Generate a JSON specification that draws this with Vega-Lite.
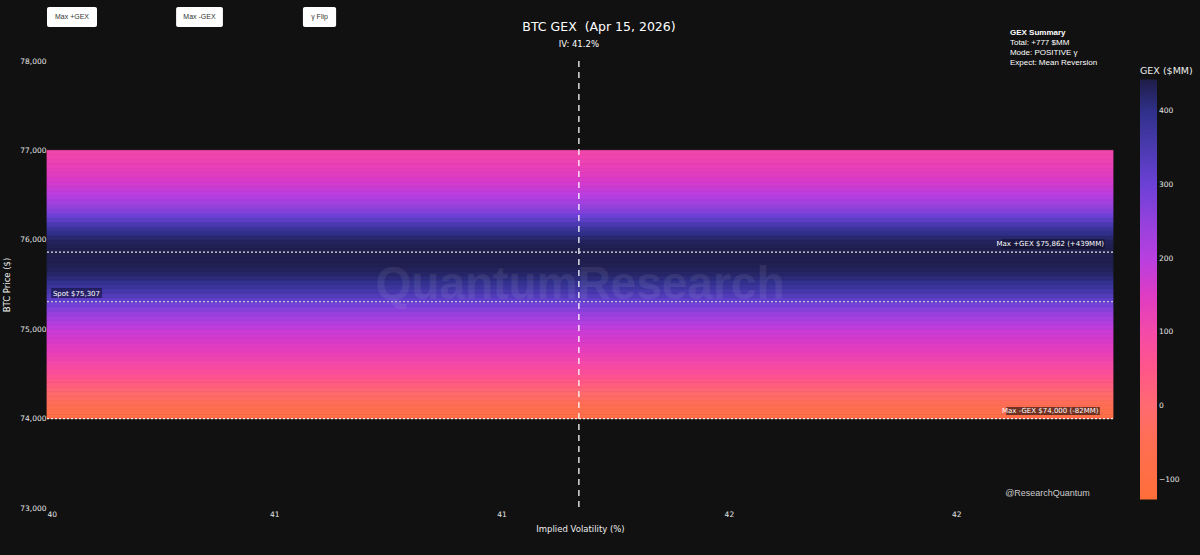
{
  "$schema": "https://vega.github.io/schema/vega-lite/v6.json",
  "width": 1066,
  "height": 447,
  "autosize": {"type": "none"},
  "padding": {"left": 47, "top": 61, "right": 87, "bottom": 47},
  "background": "#111111",
  "config": {
    "view": {"stroke": null},
    "axis": {
      "labelColor": "#e6e6e6",
      "labelFont": "DejaVu Sans",
      "labelFontSize": 7.5,
      "titleColor": "#eeeeee",
      "titleFont": "DejaVu Sans",
      "titleFontSize": 8.5,
      "titleFontWeight": "normal",
      "domain": false,
      "ticks": false,
      "grid": false
    },
    "legend": {
      "labelColor": "#e6e6e6",
      "labelFont": "DejaVu Sans",
      "titleColor": "#eeeeee",
      "titleFont": "DejaVu Sans"
    }
  },
  "data": {
    "values": [
      {"p0": 74000, "p1": 74050, "gex": -82},
      {"p0": 74050, "p1": 74100, "gex": -70},
      {"p0": 74100, "p1": 74150, "gex": -55},
      {"p0": 74150, "p1": 74200, "gex": -40},
      {"p0": 74200, "p1": 74250, "gex": -25},
      {"p0": 74250, "p1": 74300, "gex": -8},
      {"p0": 74300, "p1": 74350, "gex": 10},
      {"p0": 74350, "p1": 74400, "gex": 28},
      {"p0": 74400, "p1": 74450, "gex": 45},
      {"p0": 74450, "p1": 74500, "gex": 60},
      {"p0": 74500, "p1": 74550, "gex": 75},
      {"p0": 74550, "p1": 74600, "gex": 90},
      {"p0": 74600, "p1": 74650, "gex": 103},
      {"p0": 74650, "p1": 74700, "gex": 116},
      {"p0": 74700, "p1": 74750, "gex": 128},
      {"p0": 74750, "p1": 74800, "gex": 140},
      {"p0": 74800, "p1": 74850, "gex": 150},
      {"p0": 74850, "p1": 74900, "gex": 160},
      {"p0": 74900, "p1": 74950, "gex": 170},
      {"p0": 74950, "p1": 75000, "gex": 180},
      {"p0": 75000, "p1": 75050, "gex": 192},
      {"p0": 75050, "p1": 75100, "gex": 208},
      {"p0": 75100, "p1": 75150, "gex": 226},
      {"p0": 75150, "p1": 75200, "gex": 246},
      {"p0": 75200, "p1": 75250, "gex": 268},
      {"p0": 75250, "p1": 75300, "gex": 292},
      {"p0": 75300, "p1": 75350, "gex": 316},
      {"p0": 75350, "p1": 75400, "gex": 338},
      {"p0": 75400, "p1": 75450, "gex": 358},
      {"p0": 75450, "p1": 75500, "gex": 378},
      {"p0": 75500, "p1": 75550, "gex": 396},
      {"p0": 75550, "p1": 75600, "gex": 411},
      {"p0": 75600, "p1": 75650, "gex": 423},
      {"p0": 75650, "p1": 75700, "gex": 431},
      {"p0": 75700, "p1": 75750, "gex": 436},
      {"p0": 75750, "p1": 75800, "gex": 438},
      {"p0": 75800, "p1": 75850, "gex": 439},
      {"p0": 75850, "p1": 75900, "gex": 439},
      {"p0": 75900, "p1": 75950, "gex": 436},
      {"p0": 75950, "p1": 76000, "gex": 430},
      {"p0": 76000, "p1": 76050, "gex": 418},
      {"p0": 76050, "p1": 76100, "gex": 400},
      {"p0": 76100, "p1": 76150, "gex": 378},
      {"p0": 76150, "p1": 76200, "gex": 352},
      {"p0": 76200, "p1": 76250, "gex": 325},
      {"p0": 76250, "p1": 76300, "gex": 298},
      {"p0": 76300, "p1": 76350, "gex": 272},
      {"p0": 76350, "p1": 76400, "gex": 250},
      {"p0": 76400, "p1": 76450, "gex": 230},
      {"p0": 76450, "p1": 76500, "gex": 212},
      {"p0": 76500, "p1": 76550, "gex": 196},
      {"p0": 76550, "p1": 76600, "gex": 182},
      {"p0": 76600, "p1": 76650, "gex": 170},
      {"p0": 76650, "p1": 76700, "gex": 158},
      {"p0": 76700, "p1": 76750, "gex": 148},
      {"p0": 76750, "p1": 76800, "gex": 138},
      {"p0": 76800, "p1": 76850, "gex": 130},
      {"p0": 76850, "p1": 76900, "gex": 122},
      {"p0": 76900, "p1": 76950, "gex": 115},
      {"p0": 76950, "p1": 77000, "gex": 108}
    ]
  },
  "layer": [
    {
      "mark": {"type": "rect", "strokeWidth": 0.8, "stroke": {"expr": "scale('color', datum.gex)"}},
      "encoding": {
        "x": {
          "datum": 40,
          "type": "quantitative",
          "scale": {"domain": [40, 42.345], "nice": false, "zero": false},
          "axis": {"values": [40, 40.5, 41, 41.5, 42], "format": ".0f", "labelPadding": 2, "titlePadding": 7, "title": "Implied Volatility (%)"}
        },
        "x2": {"datum": 42.345},
        "y": {
          "field": "p0",
          "type": "quantitative",
          "scale": {"domain": [73000, 78000], "nice": false, "zero": false},
          "axis": {"values": [73000, 74000, 75000, 76000, 77000, 78000], "labelExpr": "format(datum.value, ',')", "labelPadding": 1, "titlePadding": 8, "title": "BTC Price ($)"}
        },
        "y2": {"field": "p1"},
        "color": {
          "field": "gex",
          "type": "quantitative",
          "scale": {
            "domain": [-127, -45, 0, 100, 200, 300, 400, 443],
            "range": ["#ff6e38", "#ff6e54", "#ff6a70", "#f44aa8", "#b83fe0", "#6c41d6", "#30308a", "#1e1d48"]
          },
          "legend": {
            "type": "gradient",
            "title": "GEX ($MM)",
            "orient": "none",
            "legendX": 1093,
            "legendY": 5,
            "direction": "vertical",
            "gradientLength": 420,
            "gradientThickness": 17,
            "values": [-100, 0, 100, 200, 300, 400],
            "labelFontSize": 7.5,
            "labelOffset": 2,
            "labelOverlap": false,
            "titleFontSize": 9.5,
            "titleFontWeight": "normal",
            "titlePadding": 4
          }
        }
      }
    },
    {
      "data": {"values": [{}]},
      "mark": {"type": "text", "font": "Liberation Sans", "fontWeight": "bold", "fontSize": 46, "fill": "#ffffff", "opacity": 0.07, "align": "center", "baseline": "middle"},
      "encoding": {"x": {"datum": 41.1725}, "y": {"datum": 75500}, "text": {"value": "QuantumResearch"}}
    },
    {
      "data": {"values": [{}]},
      "mark": {"type": "rule", "color": "#ffffff", "opacity": 0.85, "strokeWidth": 1.5, "strokeDash": [6, 5]},
      "encoding": {"x": {"datum": 41.17}}
    },
    {
      "data": {"values": [
        {"level": "Max +GEX", "price": 75862},
        {"level": "Spot", "price": 75307},
        {"level": "Max -GEX", "price": 74000}
      ]},
      "mark": {"type": "rule", "color": "#e8e8e8", "strokeWidth": 1.2, "strokeDash": [2, 2]},
      "encoding": {"y": {"field": "price", "type": "quantitative"}}
    },
    {
      "data": {"values": [{}]},
      "mark": {"type": "rect", "color": "#000000", "opacity": 0.3},
      "encoding": {"x": {"datum": 42.099}, "x2": {"datum": 42.327}, "y": {"datum": 76009}, "y2": {"datum": 75897}}
    },
    {
      "data": {"values": [{}]},
      "mark": {"type": "rect", "color": "#0d0d30", "opacity": 0.55},
      "encoding": {"x": {"datum": 40.009}, "x2": {"datum": 40.121}, "y": {"datum": 75461}, "y2": {"datum": 75349}}
    },
    {
      "data": {"values": [{}]},
      "mark": {"type": "rect", "color": "#000000", "opacity": 0.55},
      "encoding": {"x": {"datum": 42.11}, "x2": {"datum": 42.316}, "y": {"datum": 74130}, "y2": {"datum": 74040}}
    },
    {
      "data": {"values": [{}]},
      "mark": {"type": "text", "font": "DejaVu Sans", "fontSize": 7, "fill": "#ffffff", "align": "right", "baseline": "middle", "dy": -8},
      "encoding": {"x": {"datum": 42.325}, "y": {"datum": 75862}, "text": {"value": "Max +GEX $75,862 (+439MM)"}}
    },
    {
      "data": {"values": [{}]},
      "mark": {"type": "text", "font": "DejaVu Sans", "fontSize": 7, "fill": "#ffffff", "align": "left", "baseline": "middle", "dy": -8},
      "encoding": {"x": {"datum": 40.013}, "y": {"datum": 75307}, "text": {"value": "Spot $75,307"}}
    },
    {
      "data": {"values": [{}]},
      "mark": {"type": "text", "font": "DejaVu Sans", "fontSize": 7, "fill": "#ffffff", "align": "right", "baseline": "middle", "dy": -8},
      "encoding": {"x": {"datum": 42.313}, "y": {"datum": 74000}, "text": {"value": "Max -GEX $74,000 (-82MM)"}}
    },
    {
      "data": {"values": [{}]},
      "mark": {"type": "text", "font": "DejaVu Sans", "fontSize": 12.5, "fill": "#ffffff", "align": "center", "baseline": "middle"},
      "encoding": {"x": {"datum": 41.2143}, "y": {"datum": 78385}, "text": {"value": "BTC GEX \u00a0(Apr 15, 2026)"}}
    },
    {
      "data": {"values": [{}]},
      "mark": {"type": "text", "font": "DejaVu Sans", "fontSize": 8.5, "fill": "#ffffff", "align": "center", "baseline": "middle"},
      "encoding": {"x": {"datum": 41.17}, "y": {"datum": 78190}, "text": {"value": "IV: 41.2%"}}
    },
    {
      "data": {"values": [{}]},
      "mark": {"type": "text", "font": "Liberation Sans", "fontSize": 8, "fontWeight": "bold", "fill": "#ffffff", "align": "left", "baseline": "middle"},
      "encoding": {"x": {"datum": 42.1183}, "y": {"datum": 78313}, "text": {"value": "GEX Summary"}}
    },
    {
      "data": {"values": [{}]},
      "mark": {"type": "text", "font": "Liberation Sans", "fontSize": 8, "fill": "#ffffff", "align": "left", "baseline": "top", "lineHeight": 10},
      "encoding": {"x": {"datum": 42.1183}, "y": {"datum": 78246}, "text": {"value": ["Total: +777 $MM", "Mode: POSITIVE γ", "Expect: Mean Reversion"]}}
    },
    {
      "data": {"values": [{}]},
      "mark": {"type": "text", "font": "Liberation Sans", "fontSize": 9, "fill": "#cccccc", "align": "right", "baseline": "middle"},
      "encoding": {"x": {"datum": 42.294}, "y": {"datum": 73168}, "text": {"value": "@ResearchQuantum"}}
    },
    {
      "data": {"values": [{}]},
      "mark": {"type": "rect", "color": "#ffffff", "cornerRadius": 2},
      "encoding": {"x": {"datum": 40.0}, "x2": {"datum": 40.11}, "y": {"datum": 78604}, "y2": {"datum": 78380}}
    },
    {
      "data": {"values": [{}]},
      "mark": {"type": "rect", "color": "#ffffff", "cornerRadius": 2},
      "encoding": {"x": {"datum": 40.284}, "x2": {"datum": 40.387}, "y": {"datum": 78604}, "y2": {"datum": 78380}}
    },
    {
      "data": {"values": [{}]},
      "mark": {"type": "rect", "color": "#ffffff", "cornerRadius": 2},
      "encoding": {"x": {"datum": 40.563}, "x2": {"datum": 40.636}, "y": {"datum": 78604}, "y2": {"datum": 78380}}
    },
    {
      "data": {"values": [{}]},
      "mark": {"type": "text", "font": "Liberation Sans", "fontSize": 7, "fill": "#333333", "align": "center", "baseline": "middle"},
      "encoding": {"x": {"datum": 40.055}, "y": {"datum": 78492}, "text": {"value": "Max +GEX"}}
    },
    {
      "data": {"values": [{}]},
      "mark": {"type": "text", "font": "Liberation Sans", "fontSize": 7, "fill": "#333333", "align": "center", "baseline": "middle"},
      "encoding": {"x": {"datum": 40.3355}, "y": {"datum": 78492}, "text": {"value": "Max -GEX"}}
    },
    {
      "data": {"values": [{}]},
      "mark": {"type": "text", "font": "Liberation Sans", "fontSize": 7, "fill": "#333333", "align": "center", "baseline": "middle"},
      "encoding": {"x": {"datum": 40.5995}, "y": {"datum": 78492}, "text": {"value": "γ Flip"}}
    }
  ]
}
